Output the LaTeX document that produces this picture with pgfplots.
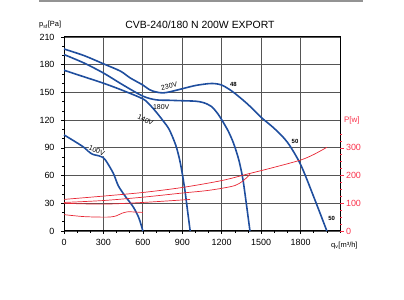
\documentclass[border=0pt]{standalone}
\usepackage{pgfplots}
\pgfplotsset{compat=1.18}
\usepackage{fontspec}
\setmainfont{Liberation Sans}

\definecolor{fanblue}{RGB}{31,78,158}
\definecolor{powred}{RGB}{232,38,52}
\definecolor{axred}{RGB}{250,50,75}
\definecolor{gridgray}{RGB}{85,85,85}

\tikzset{
  pcurve/.style={fanblue, line width=1.6bp, smooth, tension=0.5, no markers},
  wcurve/.style={powred, line width=0.7bp, smooth, tension=0.5, no markers},
}

\begin{document}
\begin{tikzpicture}[x=1bp,y=1bp]
% thin grey band along the top
\fill[gray!85] (39,298) rectangle (363,300);
% title and axis captions
\node[font=\fontsize{10.5}{12}\selectfont] at (200,275) {CVB-240/180 N 200W EXPORT};
\node[anchor=west,font=\fontsize{7.5}{8}\selectfont,inner sep=0pt] at (39,275) {p\textsubscript{sf}[Pa]};
\node[anchor=west,font=\fontsize{7.5}{8}\selectfont,inner sep=0pt] at (331,54) {q\textsubscript{v}[m³/h]};

% pressure curves
\begin{axis}[
  at={(64bp,69bp)}, anchor=south west,
  scale only axis, width=276bp, height=194bp,
  xmin=0, xmax=2100, ymin=0, ymax=210,
  xtick={0,300,...,1800}, ytick={0,30,...,210},
  minor xtick={0,100,...,2100}, minor ytick={0,10,...,210},
  tick pos=left, tick align=outside,
  major tick length=3bp, minor tick length=2bp,
  tick style={black, line width=0.6bp},
  grid=major,
  major grid style={draw=gridgray, line width=0.9bp},
  axis line style={line width=1bp},
  ticklabel style={font=\fontsize{9}{10}\selectfont},
  /pgf/number format/assume math mode=true,
  /pgf/number format/1000 sep={},
  scaled ticks=false,
  xticklabel style={yshift=-2bp},
  yticklabel style={xshift=-3bp},
  clip=false,
]
% 230V
\addplot[pcurve] coordinates {(0,197) (150,190) (300,181) (430,173) (500,166) (600,158) (650,153) (700,150.5) (750,149.5) (800,150.5) (900,154) (1000,157.5) (1100,159.5) (1150,159.5) (1200,158) (1250,154) (1300,149) (1400,137) (1500,123) (1600,111) (1700,96) (1800,72) (1900,37) (2000,0)};
% 180V
\addplot[pcurve] coordinates {(0,191) (150,182) (300,171) (450,158) (600,146) (700,142) (800,141.5) (900,141) (1000,140.5) (1060,139) (1120,135) (1170,127) (1210,118) (1250,108) (1290,95) (1330,77) (1360,57) (1385,32) (1400,16) (1415,0)};
% 140V
\addplot[pcurve] coordinates {(0,174) (150,167) (300,160) (450,152) (600,143) (650,137) (700,129) (750,120) (800,110) (850,93) (880,77) (900,62) (920,44) (940,22) (960,0)};
% 100V
\addplot[pcurve] coordinates {(0,104) (70,98) (147,91) (211,83.5) (274,81) (312,77.5) (375,62.5) (413,49) (464,38) (527,26) (570,14) (600,0)};

% curve captions
\begin{scope}[every node/.style={font=\fontsize{7}{8}\selectfont, inner sep=0.3pt}]
\node[rotate=12, fill=white] at (axis cs:800,157) {230V};
\node at (axis cs:740,134) {180V};
\node[rotate=-25] at (axis cs:620,120) {140V};
\node[rotate=-22, fill=white] at (axis cs:249,87) {100V};
\end{scope}
\begin{scope}[every node/.style={font=\bfseries\fontsize{6}{7}\selectfont, inner sep=0.5pt}]
\node at (axis cs:1289,159) {48};
\node at (axis cs:1758,97) {50};
\node at (axis cs:2037,14) {50};
\end{scope}
\end{axis}

% power curves on the right-hand scale
\begin{axis}[
  at={(64bp,69bp)}, anchor=south west,
  scale only axis, width=276bp, height=194bp,
  xmin=0, xmax=2100, ymin=0, ymax=700,
  axis x line=none, axis y line*=right,
  y axis line style={draw=none},
  ytick={0,100,200,300}, minor ytick={0,25,...,350},
  tick align=outside,
  major tick length=3.5bp, minor tick length=2bp,
  tick style={axred, line width=0.6bp},
  yticklabel style={axred, font=\fontsize{9}{10}\selectfont, xshift=-1bp},
  /pgf/number format/assume math mode=true,
  clip=false,
]
% 230V
\addplot[wcurve] coordinates {(0,114) (300,126) (600,139) (900,157) (1200,182) (1400,206) (1600,230) (1800,256) (1900,276) (2000,302)};
% 180V
\addplot[wcurve] coordinates {(0,103) (300,110) (600,122) (900,137) (1073,145) (1200,154) (1300,164) (1360,180) (1415,204)};
% 140V
\addplot[wcurve] coordinates {(0,100) (300,97) (600,103) (900,112) (960,114)};
% 100V
\addplot[wcurve] coordinates {(0,59) (150,52) (300,50) (360,51) (400,55) (440,64) (480,69) (520,69) (600,67)};
\node[anchor=west, text=axred, font=\fontsize{8}{9}\selectfont, inner sep=0pt] at (axis cs:2130,400) {P[w]};
\end{axis}

\pgfresetboundingbox
\path[use as bounding box] (0,0) rectangle (404,300);
\end{tikzpicture}
\end{document}
